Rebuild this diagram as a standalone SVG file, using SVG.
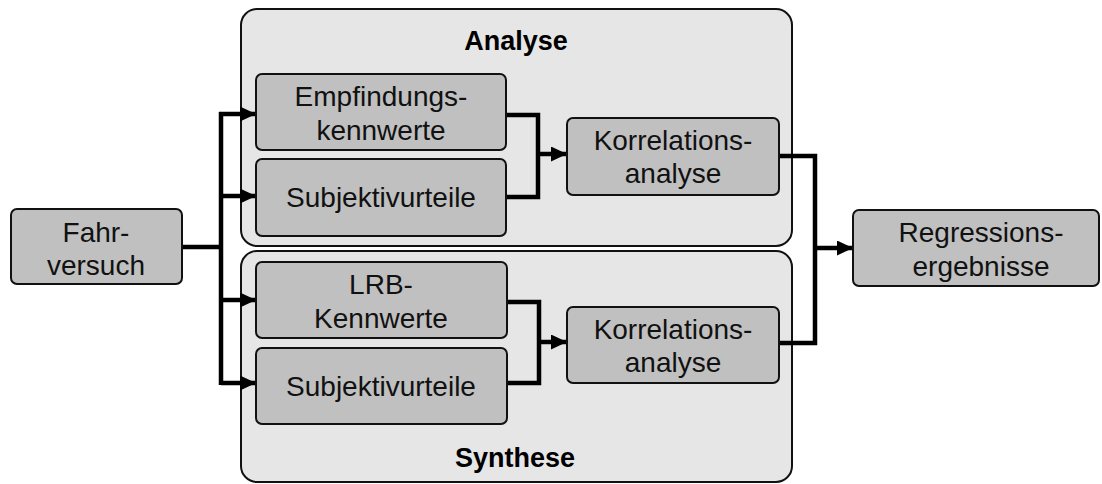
<svg xmlns="http://www.w3.org/2000/svg" width="1102" height="484" viewBox="0 0 1102 484">
  <defs>
    <marker id="arrow" markerUnits="userSpaceOnUse" markerWidth="16" markerHeight="15" refX="16" refY="7.5" orient="auto">
      <path d="M0,0 L16,7.5 L0,15 z" fill="#000"/>
    </marker>
    <style>
      .group { fill: #e6e6e6; stroke: #111; stroke-width: 2; }
      .box { fill: #c0c0c0; stroke: #111; stroke-width: 2; }
      .label { font-family: "Liberation Sans", Arial, sans-serif; font-size: 28px; fill: #111; text-anchor: middle; }
      .title { font-family: "Liberation Sans", Arial, sans-serif; font-size: 27px; font-weight: bold; fill: #000; text-anchor: middle; }
      .wire { fill: none; stroke: #000; stroke-width: 4.5; stroke-linejoin: miter; }
      .arrow { fill: none; stroke: #000; stroke-width: 4.5; marker-end: url(#arrow); }
    </style>
  </defs>

  <rect width="1102" height="484" fill="#fff"/>

  <!-- Containers -->
  <g id="analyse">
    <rect class="group" x="241" y="9" width="551" height="237" rx="16"/>
    <text class="title" x="516" y="50">Analyse</text>
  </g>
  <g id="synthese">
    <rect class="group" x="241" y="251" width="551" height="231" rx="16"/>
    <text class="title" x="515" y="467">Synthese</text>
  </g>

  <!-- Connectors -->
  <g id="connectors">
    <path class="wire" d="M182,247 H221"/>
    <path class="wire" d="M221,112 V385"/>
    <path class="arrow" d="M219,114 H256"/>
    <path class="arrow" d="M221,196 H256"/>
    <path class="arrow" d="M221,300 H256"/>
    <path class="arrow" d="M221,383 H256"/>

    <path class="wire" d="M506,115 H538 V197 H506"/>
    <path class="arrow" d="M538,154 H567"/>

    <path class="wire" d="M507,302 H539 V383 H507"/>
    <path class="arrow" d="M539,342 H567"/>

    <path class="wire" d="M779,156 H815 V343 H779"/>
    <path class="arrow" d="M815,248 H853"/>
  </g>

  <!-- Nodes -->
  <g id="fahrversuch">
    <rect class="box" x="11" y="209" width="171" height="75" rx="6"/>
    <text class="label" x="96" y="242">Fahr-</text>
    <text class="label" x="96" y="275">versuch</text>
  </g>

  <g id="empfindungskennwerte">
    <rect class="box" x="256" y="74" width="250" height="76" rx="6"/>
    <text class="label" x="381" y="106">Empfindungs-</text>
    <text class="label" x="381" y="140">kennwerte</text>
  </g>

  <g id="subjektivurteile-analyse">
    <rect class="box" x="256" y="159" width="250" height="77" rx="6"/>
    <text class="label" x="381" y="207">Subjektivurteile</text>
  </g>

  <g id="korrelationsanalyse-analyse">
    <rect class="box" x="567" y="118" width="212" height="77" rx="6"/>
    <text class="label" x="673" y="150">Korrelations-</text>
    <text class="label" x="673" y="183">analyse</text>
  </g>

  <g id="lrb-kennwerte">
    <rect class="box" x="256" y="262" width="251" height="76" rx="6"/>
    <text class="label" x="381" y="294">LRB-</text>
    <text class="label" x="381" y="328">Kennwerte</text>
  </g>

  <g id="subjektivurteile-synthese">
    <rect class="box" x="256" y="348" width="251" height="76" rx="6"/>
    <text class="label" x="381" y="396">Subjektivurteile</text>
  </g>

  <g id="korrelationsanalyse-synthese">
    <rect class="box" x="567" y="307" width="212" height="76" rx="6"/>
    <text class="label" x="673" y="339">Korrelations-</text>
    <text class="label" x="673" y="372">analyse</text>
  </g>

  <g id="regressionsergebnisse">
    <rect class="box" x="853" y="210" width="246" height="76" rx="6"/>
    <text class="label" x="981" y="242">Regressions-</text>
    <text class="label" x="981" y="276">ergebnisse</text>
  </g>
</svg>
